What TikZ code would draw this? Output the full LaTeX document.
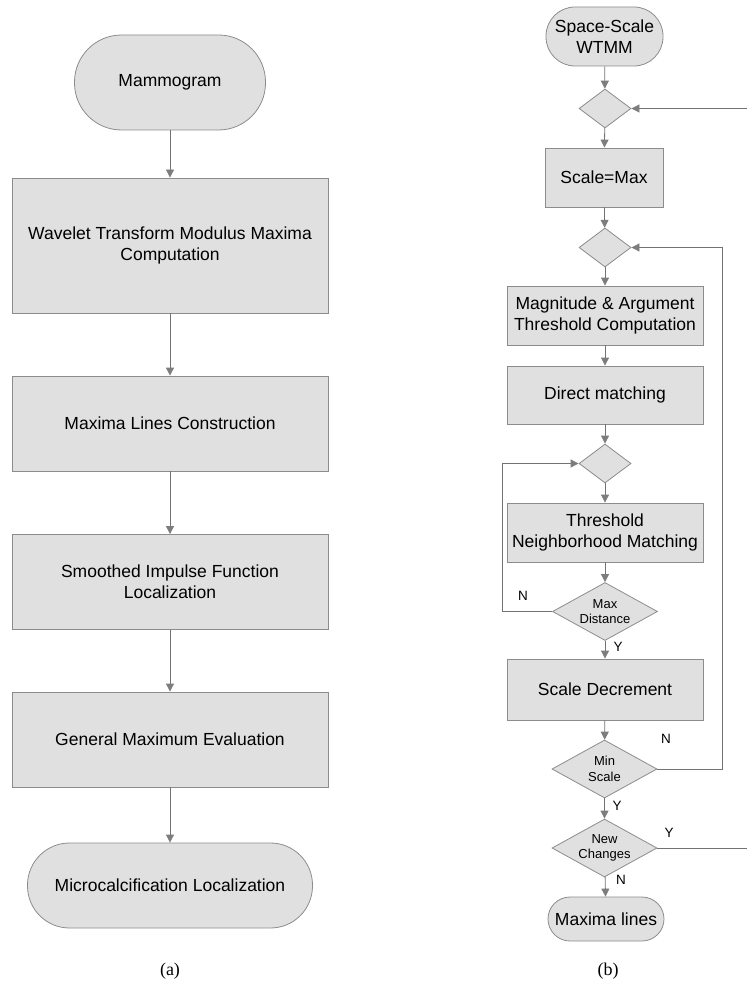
\documentclass[tikz,border=0pt]{standalone}
\usepackage{fontspec}
\setmainfont{Liberation Sans}
\newfontfamily\capfont{Liberation Serif}
\usetikzlibrary{shapes.geometric,arrows.meta}
\definecolor{fillc}{RGB}{224,224,224}
\definecolor{edgec}{RGB}{140,140,140}
\definecolor{linec}{RGB}{115,115,115}
\definecolor{tipc}{RGB}{125,125,125}
\begin{document}
\begin{tikzpicture}[x=1pt,y=-1pt,
  base/.style={draw=edgec,fill=fillc,line width=0.8pt,inner sep=0pt,align=center,font=\fontsize{17.5}{21}\selectfont},
  boxa/.style={base,rectangle,minimum width=316pt},
  term/.style={base,rectangle},
  dia/.style={base,diamond,minimum width=52pt,minimum height=39pt},
  bigdia/.style={base,diamond,minimum width=105pt,minimum height=58pt},
  yn/.style={inner sep=0pt,font=\fontsize{13.5}{14}\selectfont},
  conn/.style={draw=linec,line width=0.8pt},
  arr/.style={conn,-{Triangle[length=8pt,width=8pt,fill=tipc,color=tipc]}},
  captext/.style={inner sep=0pt,font=\capfont\fontsize{18}{19}\selectfont}]
\useasboundingbox (0,0) rectangle (747,984);
% ---------- (a) ----------
\node[term,minimum width=191pt,minimum height=95pt,rounded corners=47pt] (mam) at (170,82.5) {Mammogram};
\node[boxa,minimum height=135pt] (b1) at (170,245.5) {Wavelet Transform Modulus Maxima\\Computation};
\node[boxa,minimum height=95pt] (b2) at (170,423.5) {Maxima Lines Construction};
\node[boxa,minimum height=95pt] (b3) at (170,582) {Smoothed Impulse Function\\Localization};
\node[boxa,minimum height=95pt] (b4) at (170,739.5) {General Maximum Evaluation};
\node[term,minimum width=285pt,minimum height=85pt,rounded corners=42pt] (mic) at (170,885.5) {Microcalcification Localization};
\draw[arr] (mam) -- (b1);
\draw[arr] (b1) -- (b2);
\draw[arr] (b2) -- (b3);
\draw[arr] (b3) -- (b4);
\draw[arr] (b4) -- (mic);
\node[captext] (capa) at (170,971) {(a)};
% ---------- (b) ----------
\node[term,minimum width=117pt,minimum height=59pt,rounded corners=29pt] (sst) at (604.5,36.5) {Space-Scale\\WTMM};
\node[dia] (d1) at (605,108.5) {};
\node[term,minimum width=118pt,minimum height=59pt] (smax) at (604,177.5) {Scale=Max};
\node[dia] (d2) at (605,247.5) {};
\node[term,minimum width=196pt,minimum height=59pt] (mag) at (605,315.5) {Magnitude \& Argument\\Threshold Computation};
\node[term,minimum width=196pt,minimum height=58pt] (dm) at (605,395) {Direct matching};
\node[dia] (d3) at (605,463.5) {};
\node[term,minimum width=196pt,minimum height=59pt] (tnm) at (605,532.5) {Threshold\\Neighborhood Matching};
\node[bigdia,label={[align=center,font=\fontsize{13}{15.6}\selectfont]center:Max\\Distance}] (md) at (605,611.5) {};
\node[term,minimum width=196pt,minimum height=61pt] (sd) at (605,689.5) {Scale Decrement};
\node[bigdia,label={[align=center,font=\fontsize{13}{15.6}\selectfont]center:Min\\Scale}] (ms) at (604.5,769) {};
\node[bigdia,label={[align=center,font=\fontsize{13}{15.6}\selectfont]center:New\\Changes}] (nc) at (604.5,848) {};
\node[term,minimum width=116pt,minimum height=44pt,rounded corners=22pt] (ml) at (606,919) {Maxima lines};
\coordinate (rin) at (747,108.5);
\coordinate (rout) at (747,848);
\draw[arr] (sst) -- (d1);
\draw[arr] (d1) -- (smax);
\draw[arr] (smax) -- (d2);
\draw[arr] (d2) -- (mag);
\draw[arr] (mag) -- (dm);
\draw[arr] (dm) -- (d3);
\draw[arr] (d3) -- (tnm);
\draw[arr] (tnm) -- (md);
\draw[arr] (md) -- (sd);
\draw[arr] (sd) -- (ms);
\draw[arr] (ms) -- (nc);
\draw[arr] (nc) -- (ml);
\draw[arr] (md.west) -- (502,611.5) |- (d3.west);
\draw[arr] (ms.east) -- (722,769) |- (d2.east);
\draw[arr] (rin) -- (d1.east);
\draw[conn] (nc.east) -- (rout);
\node[yn] (n1) at (523,596) {N};
\node[yn] (y1) at (618,647) {Y};
\node[yn] (n2) at (666,739) {N};
\node[yn] (y2) at (617,806) {Y};
\node[yn] (y3) at (669,833) {Y};
\node[yn] (n3) at (621,880) {N};
\node[captext] (capb) at (608,971) {(b)};
\end{tikzpicture}
\end{document}
